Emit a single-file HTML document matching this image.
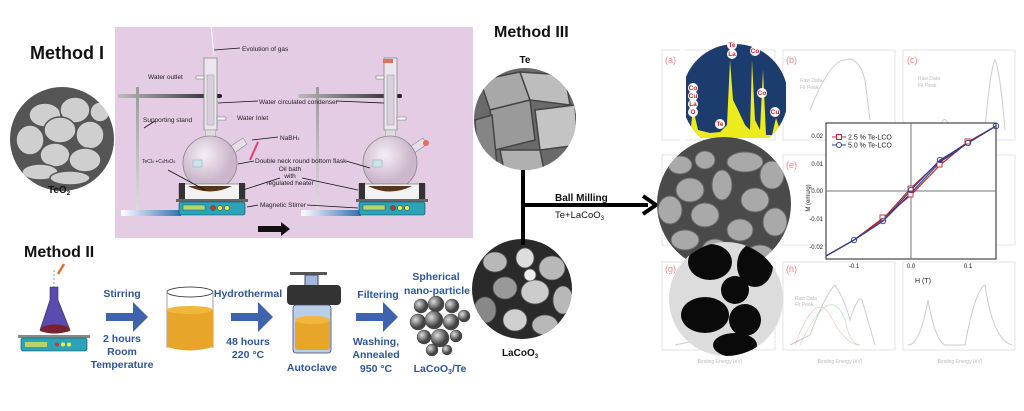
<!DOCTYPE html>
<html><head><meta charset="utf-8"><style>
html,body{margin:0;padding:0;background:#fff;width:1024px;height:411px;overflow:hidden}
svg{display:block}
text{font-family:"Liberation Sans",sans-serif}
.b{font-weight:bold}
.lab{font-size:6.5px;fill:#222}
.bl{fill:#2f5597;font-size:10.5px;font-weight:bold;text-anchor:middle}
.g{fill:#bbb;font-size:5px}
.pk{fill:#e88;font-size:9px}
</style></head><body>
<svg width="1024" height="411" viewBox="0 0 1024 411" xmlns="http://www.w3.org/2000/svg">
<defs>
<linearGradient id="base" x1="0" x2="1"><stop offset="0" stop-color="#fff"/><stop offset="1" stop-color="#2f6fb5"/></linearGradient>
<linearGradient id="clamp" x1="0" x2="1"><stop offset="0" stop-color="#bbb"/><stop offset="1" stop-color="#222"/></linearGradient>
<linearGradient id="pole" x1="0" y1="0" x2="0" y2="1"><stop offset="0" stop-color="#999"/><stop offset="1" stop-color="#ddd"/></linearGradient>
<radialGradient id="flask" cx=".4" cy=".35"><stop offset="0" stop-color="#f6eef6"/><stop offset="1" stop-color="#cbb6cc"/></radialGradient>
<radialGradient id="sph" cx=".35" cy=".35"><stop offset="0" stop-color="#ddd"/><stop offset="1" stop-color="#444"/></radialGradient>
<clipPath id="cTeO2"><circle cx="62" cy="139" r="52"/></clipPath>
<clipPath id="cTe"><circle cx="525" cy="119" r="51"/></clipPath>
<clipPath id="cLa"><circle cx="522" cy="289" r="50"/></clipPath>
<clipPath id="cEDS"><circle cx="735" cy="97" r="53"/></clipPath>
<clipPath id="cSEM"><circle cx="724" cy="204" r="67"/></clipPath>
<clipPath id="cTEM"><circle cx="726" cy="299" r="57"/></clipPath>
<g id="app">
  <rect x="136" y="87" width="3" height="124" fill="url(#pole)"/>
  <rect x="121" y="210" width="60" height="6" fill="url(#base)"/>
  <rect x="118" y="94" width="104" height="4" rx="2" fill="url(#clamp)"/>
  <rect x="204" y="58" width="13" height="72" fill="#ece6ee" stroke="#888" stroke-width=".8"/>
  <rect x="207" y="75" width="7" height="50" fill="#d8d0dc" stroke="#999" stroke-width=".5"/>
  <rect x="196" y="76" width="8" height="3" fill="#fff" stroke="#666" stroke-width=".5"/>
  <rect x="217" y="117" width="9" height="3" fill="#fff" stroke="#666" stroke-width=".5"/>
  <path d="M205 130 L216 130 L214 145 L207 145Z" fill="#ddd" stroke="#999" stroke-width=".5"/>
  <path d="M228 148 L243 138 L247 144 L233 154Z" fill="#e8dde8" stroke="#888" stroke-width=".6"/>
  <circle cx="210" cy="163" r="27" fill="url(#flask)" stroke="#888" stroke-width=".8"/>
  <rect x="193" y="160" width="9" height="7" fill="#cfe3ee" stroke="#8aa" stroke-width=".5"/>
  <rect x="179" y="184" width="66" height="16" fill="#f2f2f2" stroke="#555" stroke-width=".5"/>
  <rect x="179" y="183" width="6" height="17" fill="#333"/><rect x="239" y="183" width="6" height="17" fill="#333"/>
  <path d="M188 186 Q210 197 232 186 Z" fill="#5a3517"/>
  <rect x="176" y="199" width="72" height="3" fill="#666"/>
  <rect x="179" y="202" width="66" height="13" rx="2" fill="#2ba4b9" stroke="#145" stroke-width=".6"/>
  <rect x="183" y="205" width="22" height="5" fill="#b9d46a" stroke="#333" stroke-width=".4"/>
  <circle cx="213" cy="208" r="2.4" fill="#c33" stroke="#222" stroke-width=".4"/>
  <circle cx="220" cy="208" r="2.4" fill="#ee4" stroke="#222" stroke-width=".4"/>
  <circle cx="227" cy="208" r="2.4" fill="#ee4" stroke="#222" stroke-width=".4"/>
</g>
</defs>

<!-- Method I -->
<text x="30" y="59" class="b" font-size="18" fill="#111">Method I</text>
<g clip-path="url(#cTeO2)">
  <rect x="8" y="85" width="110" height="110" fill="#555"/>
  <g fill="#cfcfcf" stroke="#555" stroke-width="1.5">
    <ellipse cx="45" cy="115" rx="16" ry="12"/><ellipse cx="75" cy="110" rx="15" ry="13"/>
    <ellipse cx="60" cy="130" rx="16" ry="13"/><ellipse cx="90" cy="135" rx="14" ry="14"/>
    <ellipse cx="30" cy="140" rx="14" ry="15"/><ellipse cx="55" cy="155" rx="15" ry="12"/>
    <ellipse cx="85" cy="160" rx="16" ry="12"/><ellipse cx="40" cy="172" rx="18" ry="8"/>
    <ellipse cx="100" cy="112" rx="10" ry="10"/><ellipse cx="70" cy="178" rx="20" ry="7"/>
  </g>
</g>
<text x="48" y="193" class="b" font-size="10" fill="#111">TeO<tspan font-size="6" dy="2">2</tspan></text>

<rect x="115" y="27" width="358" height="211" fill="#e4cce4"/>
<use href="#app"/>
<use href="#app" transform="translate(180,0)"/>
<rect x="383" y="59" width="10" height="4" fill="#e07060"/>
<circle cx="426" cy="143" r="3" fill="#e07060"/>
<line x1="211" y1="25" x2="214" y2="55" stroke="#fff" stroke-width="1"/>
<line x1="258" y1="142" x2="250" y2="160" stroke="#e04070" stroke-width="2"/>
<g stroke="#111" stroke-width=".8">
  <line x1="214" y1="50" x2="240" y2="48"/>
  <line x1="218" y1="103" x2="258" y2="101"/><line x1="336" y1="101" x2="384" y2="103"/>
  <line x1="144" y1="128" x2="155" y2="121"/>
  <line x1="252" y1="140" x2="278" y2="137"/>
  <line x1="238" y1="164" x2="254" y2="161"/><line x1="346" y1="161" x2="370" y2="168"/>
  <line x1="168" y1="170" x2="205" y2="190"/>
  <line x1="243" y1="190" x2="280" y2="178"/><line x1="302" y1="178" x2="358" y2="190"/>
  <line x1="247" y1="207" x2="258" y2="205"/><line x1="307" y1="205" x2="358" y2="208"/>
</g>
<g class="lab">
  <text x="242" y="51">Evolution of gas</text>
  <text x="148" y="79">Water outlet</text>
  <text x="259" y="104">Water circulated condenser</text>
  <text x="143" y="122">Supporting stand</text>
  <text x="237" y="120">Water Inlet</text>
  <text x="280" y="140">NaBH<tspan font-size="4">4</tspan></text>
  <text x="255" y="163">Double neck round bottom flask</text>
  <text x="290" y="171" text-anchor="middle">Oil bath</text>
  <text x="290" y="178" text-anchor="middle">with</text>
  <text x="290" y="185" text-anchor="middle">regulated heater</text>
  <text x="260" y="207">Magnetic Stirrer</text>
  <text x="142" y="163" font-size="5">TeCl<tspan font-size="3.5">4</tspan> +C<tspan font-size="3.5">6</tspan>H<tspan font-size="3.5">8</tspan>O<tspan font-size="3.5">6</tspan></text>
</g>
<path d="M258 226 H281 V222 L290 229 L281 236 V232 H258Z" fill="#111"/>

<!-- Method II -->
<text x="24" y="257" class="b" font-size="16" fill="#111">Method II</text>
<line x1="54" y1="270" x2="54" y2="318" stroke="#7ab" stroke-width="1" stroke-dasharray="2,2"/>
<path d="M58 274 L64 264" stroke="#e07030" stroke-width="2.5"/>
<path d="M50 287 L58 287 L58 300 L70 330 Q54 336 40 330 L50 300Z" fill="#5a4bb0" stroke="#333" stroke-width=".6"/>
<path d="M42 327 Q55 322 68 327 L70 331 Q54 336 40 331Z" fill="#7a2030"/>
<rect x="18" y="335" width="72" height="3" fill="#888"/>
<rect x="21" y="338" width="66" height="13" rx="2" fill="#2ba4b9" stroke="#145" stroke-width=".6"/>
<rect x="25" y="342" width="22" height="5" fill="#b9d46a"/>
<circle cx="57" cy="344.5" r="2" fill="#c33"/><circle cx="63" cy="344.5" r="2" fill="#ee4"/><circle cx="69" cy="344.5" r="2" fill="#ee4"/>

<g fill="#3e64ad">
  <path d="M106 313 H133 V302 L148 317 L133 332 V321 H106Z"/>
  <path d="M231 313 H258 V302 L273 317 L258 332 V321 H231Z"/>
  <path d="M356 313 H383 V302 L398 317 L383 332 V321 H356Z"/>
</g>
<text x="122" y="297" class="bl">Stirring</text>
<text x="122" y="342" class="bl">2 hours</text>
<text x="122" y="355" class="bl">Room</text>
<text x="122" y="368" class="bl">Temperature</text>
<ellipse cx="190" cy="292" rx="23" ry="5" fill="#fff" stroke="#222" stroke-width=".8"/>
<line x1="167" y1="292" x2="167" y2="348" stroke="#888" stroke-width=".8"/>
<line x1="213" y1="292" x2="213" y2="348" stroke="#888" stroke-width=".8"/>
<path d="M167 310 V347 Q190 354 213 347 V310Z" fill="#e7a62a"/>
<ellipse cx="190" cy="310" rx="23" ry="4" fill="#f0b73c"/>
<text x="248" y="297" class="bl">Hydrothermal</text>
<text x="248" y="345" class="bl">48 hours</text>
<text x="248" y="358" class="bl">220 °C</text>
<rect x="290" y="272" width="37" height="3" fill="#555"/>
<rect x="305" y="275" width="13" height="12" fill="#9fb8dc" stroke="#446"/>
<rect x="287" y="285" width="54" height="20" rx="4" fill="#333"/>
<rect x="293" y="305" width="38" height="48" rx="3" fill="#b9cfe8" stroke="#446" stroke-width=".8"/>
<rect x="295" y="320" width="35" height="30" rx="3" fill="#e7a62a"/>
<ellipse cx="312.5" cy="320" rx="17.5" ry="4" fill="#f0b73c"/>
<text x="312" y="371" class="bl">Autoclave</text>
<text x="378" y="298" class="bl">Filtering</text>
<text x="376" y="345" class="bl">Washing,</text>
<text x="376" y="358" class="bl">Annealed</text>
<text x="376" y="372" class="bl">950 °C</text>
<text x="436" y="280" class="bl">Spherical</text>
<text x="437" y="294" class="bl">nano-particle</text>
<g fill="url(#sph)" stroke="#333" stroke-width=".4">
  <circle cx="421" cy="306" r="7"/><circle cx="436" cy="304" r="8"/><circle cx="452" cy="306" r="7"/>
  <circle cx="418" cy="322" r="8"/><circle cx="434" cy="320" r="9"/><circle cx="451" cy="322" r="8"/><circle cx="464" cy="316" r="6"/>
  <circle cx="424" cy="337" r="7"/><circle cx="440" cy="338" r="9"/><circle cx="456" cy="336" r="6"/>
  <circle cx="432" cy="350" r="6"/><circle cx="447" cy="350" r="5"/>
</g>
<text x="440" y="372" class="bl">LaCoO<tspan font-size="7" dy="2">3</tspan><tspan dy="-2">/Te</tspan></text>

<!-- Method III -->
<text x="494" y="37" class="b" font-size="16" fill="#111">Method III</text>
<text x="525" y="63" class="b" font-size="10" fill="#111" text-anchor="middle">Te</text>
<g clip-path="url(#cTe)">
  <rect x="470" y="65" width="110" height="110" fill="#6a6a6a"/>
  <g stroke="#444" stroke-width="1.5">
    <path d="M480 80 L520 72 L530 100 L490 110Z" fill="#a8a8a8"/>
    <path d="M520 72 L565 75 L570 105 L530 100Z" fill="#bdbdbd"/>
    <path d="M490 110 L530 100 L535 140 L495 150Z" fill="#9a9a9a"/>
    <path d="M535 110 L575 105 L578 145 L540 150Z" fill="#c4c4c4"/>
    <path d="M475 120 L492 115 L497 165 L478 168Z" fill="#858585"/>
    <path d="M500 150 L540 150 L545 175 L505 175Z" fill="#b0b0b0"/>
  </g>
</g>
<g clip-path="url(#cLa)">
  <rect x="470" y="238" width="110" height="105" fill="#2a2a2a"/>
  <g fill="#b8b8b8" stroke="#555" stroke-width=".8">
    <ellipse cx="495" cy="262" rx="12" ry="10"/><ellipse cx="525" cy="258" rx="9" ry="10" fill="#ddd"/>
    <ellipse cx="552" cy="268" rx="13" ry="12"/><ellipse cx="505" cy="288" rx="12" ry="11" fill="#999"/>
    <ellipse cx="535" cy="292" rx="14" ry="12" fill="#ccc"/><ellipse cx="563" cy="300" rx="10" ry="14"/>
    <ellipse cx="485" cy="310" rx="11" ry="13" fill="#888"/><ellipse cx="515" cy="320" rx="12" ry="11" fill="#d0d0d0"/>
    <ellipse cx="545" cy="325" rx="13" ry="10"/><ellipse cx="530" cy="275" rx="6" ry="6" fill="#eee"/>
  </g>
</g>
<text x="520" y="356" class="b" font-size="10" fill="#111" text-anchor="middle">LaCoO<tspan font-size="6" dy="2">3</tspan></text>
<rect x="521" y="170" width="4" height="75" fill="#000"/>
<rect x="523" y="203" width="125" height="4" fill="#000"/>
<path d="M643 196 L656 205 L643 214" fill="none" stroke="#000" stroke-width="4"/>
<text x="555" y="201" class="b" font-size="10" fill="#111">Ball Milling</text>
<text x="555" y="218" font-size="9.5" fill="#111">Te+LaCoO<tspan font-size="6" dy="2">3</tspan></text>

<!-- right panel grid -->
<g fill="none" stroke="#ddd" stroke-width=".8">
  <rect x="662" y="50" width="113" height="90"/><rect x="783" y="50" width="112" height="90"/><rect x="903" y="50" width="112" height="90"/>
  <rect x="662" y="155" width="113" height="90"/><rect x="783" y="155" width="112" height="90"/><rect x="903" y="155" width="112" height="90"/>
  <rect x="662" y="262" width="113" height="88"/><rect x="783" y="262" width="112" height="88"/><rect x="903" y="262" width="112" height="88"/>
</g>
<g fill="none" stroke="#ccc" stroke-width="1">
  <path d="M810 110 Q830 60 845 60 Q858 55 865 80 L870 120"/>
  <path d="M930 130 L940 128 Q945 110 950 130 L985 130 Q990 70 995 60 Q1000 70 1005 130"/>
  <path d="M790 345 L810 335 Q825 295 835 285 Q845 300 850 320 Q858 295 862 300 L875 345"/>
  <path d="M908 345 Q920 345 928 300 Q935 340 945 345 L965 345 Q975 290 985 285 Q993 340 1012 345"/>
  <path d="M675 345 Q700 340 740 330"/>
</g>
<g fill="none" stroke-width=".7" opacity=".6">
  <path d="M795 345 Q815 290 830 315 Q845 345 860 345" stroke="#e99"/>
  <path d="M800 345 Q830 280 845 320 Q850 345 860 345" stroke="#9c9"/>
</g>
<text x="665" y="63" class="pk">(a)</text><text x="786" y="63" class="pk">(b)</text><text x="907" y="63" class="pk">(c)</text>
<text x="786" y="168" class="pk">(e)</text>
<text x="665" y="272" class="pk">(g)</text><text x="786" y="272" class="pk">(h)</text>
<text x="800" y="82" class="g">Raw Data</text><text x="800" y="89" class="g">Fit Peak</text>
<text x="918" y="80" class="g">Raw Data</text><text x="918" y="87" class="g">Fit Peak</text>
<text x="795" y="300" class="g">Raw Data</text><text x="795" y="306" class="g">Fit Peak</text>
<text x="720" y="363" class="g" font-size="6" text-anchor="middle">Binding Energy (eV)</text>
<text x="840" y="363" class="g" font-size="6" text-anchor="middle">Binding Energy (eV)</text>
<text x="960" y="363" class="g" font-size="6" text-anchor="middle">Binding Energy (eV)</text>

<!-- EDS -->
<g clip-path="url(#cEDS)">
  <rect x="686" y="42" width="100" height="96" fill="#1d3c6e"/>
  <path d="M686 136 L690 136 L693 108 L698 130 L710 133 L720 132 L727 125 L730 60 L733 100 L738 110 L745 125 L750 130 L752 60 L755 120 L760 130 L763 70 L766 135 L772 135 L776 118 L782 136 L786 136 L786 138 L686 138Z" fill="#ecec1c"/>
  <rect x="685" y="138" width="100" height="20" fill="#fff"/>
</g>
<rect x="680" y="40" width="5" height="105" fill="#fff"/>
<g font-size="6.5" fill="#c0262b" font-weight="bold" text-anchor="middle">
  <circle cx="732" cy="45" r="5" fill="#fff"/><text x="732" y="47">Te</text>
  <circle cx="732" cy="54" r="5" fill="#fff"/><text x="732" y="56">La</text>
  <circle cx="755" cy="51" r="5" fill="#fff"/><text x="755" y="53">Co</text>
  <circle cx="693" cy="88" r="5" fill="#fff"/><text x="693" y="90">Co</text>
  <circle cx="693" cy="96" r="5" fill="#fff"/><text x="693" y="98">Cu</text>
  <circle cx="693" cy="104" r="5" fill="#fff"/><text x="693" y="106">La</text>
  <circle cx="693" cy="112" r="5" fill="#fff"/><text x="693" y="114">O</text>
  <circle cx="720" cy="124" r="5" fill="#fff"/><text x="720" y="126">Te</text>
  <circle cx="762" cy="93" r="5" fill="#fff"/><text x="762" y="95">Co</text>
  <circle cx="775" cy="112" r="5" fill="#fff"/><text x="775" y="114">Cu</text>
</g>
<text x="730" y="150" font-size="9" fill="#c0262b" font-weight="bold" text-anchor="middle">KeV</text>

<!-- SEM -->
<g clip-path="url(#cSEM)">
  <rect x="655" y="135" width="140" height="140" fill="#4a4a4a"/>
  <g fill="#a9a9a9" stroke="#666" stroke-width="1">
    <ellipse cx="680" cy="165" rx="12" ry="9"/><ellipse cx="705" cy="160" rx="10" ry="9"/><ellipse cx="745" cy="162" rx="18" ry="10"/>
    <ellipse cx="772" cy="175" rx="12" ry="14"/><ellipse cx="690" cy="190" rx="14" ry="12"/><ellipse cx="722" cy="185" rx="10" ry="15"/>
    <ellipse cx="755" cy="200" rx="14" ry="12"/><ellipse cx="670" cy="210" rx="12" ry="14"/><ellipse cx="705" cy="215" rx="14" ry="12"/>
    <ellipse cx="740" cy="230" rx="13" ry="11"/><ellipse cx="775" cy="222" rx="12" ry="14"/><ellipse cx="685" cy="240" rx="14" ry="10"/>
    <ellipse cx="715" cy="250" rx="13" ry="11"/><ellipse cx="760" cy="255" rx="14" ry="10"/>
  </g>
</g>
<!-- TEM -->
<g clip-path="url(#cTEM)">
  <rect x="668" y="240" width="120" height="120" fill="#dcdcdc"/>
  <g fill="#0a0a0a">
    <ellipse cx="710" cy="262" rx="22" ry="18"/><ellipse cx="755" cy="265" rx="18" ry="22"/>
    <ellipse cx="735" cy="290" rx="14" ry="14"/><ellipse cx="705" cy="315" rx="24" ry="18"/>
    <ellipse cx="745" cy="320" rx="16" ry="16"/><ellipse cx="735" cy="345" rx="22" ry="12"/>
    <ellipse cx="768" cy="250" rx="10" ry="12"/>
  </g>
</g>

<!-- M-H plot -->
<rect x="826" y="123" width="170" height="136" fill="#fff" stroke="#222" stroke-width="1"/>
<line x1="911" y1="123" x2="911" y2="259" stroke="#777"/>
<line x1="826" y1="191" x2="996" y2="191" stroke="#777"/>
<polyline points="826,256 854,240 883,218 911,195 940,165 968,142 996,126" fill="none" stroke="#c0262b" stroke-width="1.2"/>
<polyline points="826,256 854,240 883,219 911,188 940,161 968,142 996,126" fill="none" stroke="#c0262b" stroke-width="1.2"/>
<polyline points="826,256 854,240 883,221 911,193 940,162 968,143 996,126" fill="none" stroke="#2c3f8c" stroke-width="1.2"/>
<polyline points="826,256 854,240 883,221 911,190 940,160 968,143 996,126" fill="none" stroke="#2c3f8c" stroke-width="1.2"/>
<g fill="#fff" stroke="#c0262b" stroke-width=".9">
  <rect x="880" y="215" width="5" height="5"/><rect x="908" y="192" width="5" height="5"/><rect x="937" y="162" width="5" height="5"/><rect x="965" y="139" width="5" height="5"/><rect x="908" y="186" width="5" height="5"/>
</g>
<g fill="none" stroke="#2c3f8c" stroke-width=".9">
  <circle cx="854" cy="240" r="2.7"/><circle cx="883" cy="221" r="2.7"/><circle cx="911" cy="190" r="2.7"/><circle cx="940" cy="160" r="2.7"/><circle cx="968" cy="143" r="2.7"/><circle cx="996" cy="126" r="2.7"/>
</g>
<line x1="832" y1="137" x2="846" y2="137" stroke="#c0262b"/><rect x="836.5" y="134.5" width="5" height="5" fill="#fff" stroke="#c0262b"/>
<line x1="832" y1="145" x2="846" y2="145" stroke="#2c3f8c"/><circle cx="839" cy="145" r="2.5" fill="#fff" stroke="#2c3f8c"/>
<text x="848" y="139.5" font-size="7" fill="#222" font-family="Liberation Serif">2.5 % Te-LCO</text>
<text x="848" y="147.5" font-size="7" fill="#222" font-family="Liberation Serif">5.0 % Te-LCO</text>
<g font-size="6" fill="#222" text-anchor="end" font-family="Liberation Serif">
  <text x="823" y="138">0.02</text><text x="823" y="166">0.01</text><text x="823" y="193">0.00</text><text x="823" y="221">-0.01</text><text x="823" y="249">-0.02</text>
</g>
<g font-size="6" fill="#222" text-anchor="middle" font-family="Liberation Serif">
  <text x="854" y="268">-0.1</text><text x="911" y="268">0.0</text><text x="968" y="268">0.1</text>
</g>
<text x="915" y="283" font-size="7" fill="#222" font-family="Liberation Serif">H (T)</text>
<text x="810" y="198" font-size="6" fill="#222" font-family="Liberation Serif" transform="rotate(-90 810 198)" text-anchor="middle">M (emu/g)</text>
</svg>
</body></html>
